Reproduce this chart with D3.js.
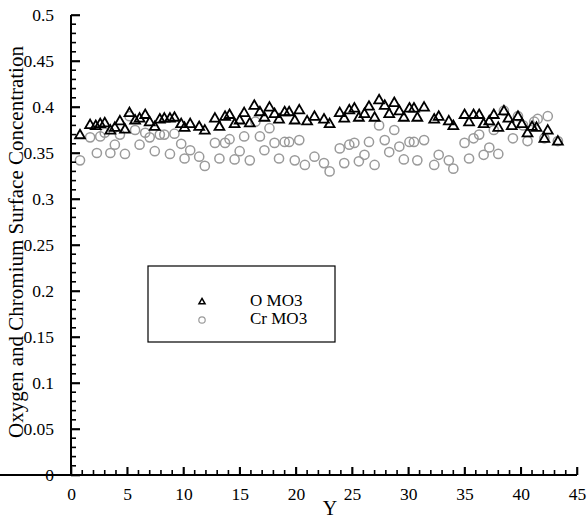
<!DOCTYPE html>
<html><head><meta charset="utf-8">
<script src="https://cdn.jsdelivr.net/npm/d3@7"></script>
<style>body{margin:0;background:#fff}svg{display:block}</style>
</head><body>
<svg id="c" width="588" height="519"></svg>
<script>
const xO = [0.8,1.7,2.2,2.6,3.0,3.5,3.9,4.35,4.8,5.2,5.7,6.1,6.6,7.0,7.45,7.9,8.3,8.8,9.2,9.8,10.1,10.6,11.4,11.9,12.8,13.2,13.7,14.1,14.55,15.0,15.4,15.9,16.3,16.8,17.2,17.65,18.1,18.5,19.0,19.4,19.9,20.3,21.0,21.65,22.5,23.0,23.9,24.3,24.75,25.2,25.6,26.1,26.5,27.0,27.4,27.9,28.3,28.75,29.2,29.6,30.1,30.5,30.8,31.4,32.3,32.7,33.6,34.0,35.0,35.4,35.8,36.3,36.7,37.2,37.6,38.0,38.5,38.9,39.2,39.75,40.1,40.6,41.0,41.4,42.1,42.4,43.3];
const oMO3 = [0.370,0.381,0.380,0.382,0.383,0.375,0.378,0.385,0.376,0.394,0.386,0.388,0.392,0.384,0.379,0.387,0.388,0.388,0.389,0.382,0.378,0.382,0.379,0.375,0.388,0.379,0.390,0.392,0.382,0.386,0.394,0.383,0.402,0.395,0.389,0.400,0.393,0.387,0.395,0.395,0.386,0.397,0.385,0.390,0.387,0.382,0.394,0.388,0.397,0.399,0.389,0.393,0.401,0.389,0.408,0.402,0.393,0.405,0.396,0.389,0.399,0.399,0.389,0.400,0.387,0.390,0.385,0.380,0.392,0.384,0.392,0.392,0.382,0.385,0.392,0.378,0.396,0.388,0.380,0.390,0.382,0.372,0.379,0.378,0.366,0.375,0.363];
const xCr = [0.8,1.7,2.3,2.6,3.0,3.5,3.9,4.35,4.8,5.2,5.7,6.1,6.6,7.0,7.45,7.9,8.3,8.8,9.2,9.8,10.1,10.6,11.4,11.9,12.8,13.2,13.7,14.1,14.55,15.0,15.4,15.9,16.4,16.8,17.2,17.65,18.1,18.5,19.0,19.4,19.9,20.3,20.8,21.65,22.5,23.0,23.9,24.3,24.75,25.2,25.6,26.1,26.5,27.0,27.4,27.9,28.3,28.75,29.2,29.6,30.1,30.5,30.8,31.4,32.3,32.7,33.6,34.0,35.0,35.4,35.8,36.3,36.7,37.2,37.6,38.0,38.5,39.3,39.75,40.2,40.6,41.2,41.5,42.1,42.4,43.3];
const crMO3 = [0.342,0.367,0.350,0.368,0.372,0.350,0.359,0.370,0.349,0.390,0.375,0.359,0.372,0.367,0.352,0.370,0.370,0.349,0.371,0.360,0.344,0.353,0.346,0.336,0.361,0.344,0.361,0.365,0.343,0.352,0.368,0.342,0.384,0.368,0.353,0.377,0.361,0.344,0.362,0.362,0.342,0.364,0.337,0.346,0.339,0.330,0.355,0.339,0.359,0.361,0.341,0.348,0.362,0.337,0.380,0.364,0.351,0.375,0.357,0.343,0.362,0.362,0.342,0.364,0.337,0.348,0.342,0.333,0.361,0.344,0.366,0.370,0.348,0.356,0.375,0.349,0.396,0.366,0.390,0.380,0.363,0.384,0.387,0.366,0.390,0.363];
const yTicks = [0,0.05,0.1,0.15,0.2,0.25,0.3,0.35,0.4,0.45,0.5];
const xTicks = [0,5,10,15,20,25,30,35,40,45];
const seriesNames = ["O MO3","Cr MO3"];

const svg = d3.select("#c");
const FONT = "'Liberation Serif', 'Times New Roman', serif";
const x = d3.scaleLinear().domain([0,45]).range([71,577]);
const y = d3.scaleLinear().domain([0,0.5]).range([475,15]);

// data
const tri = d3.symbol().type(d3.symbolTriangle).size(42);
svg.append("g").selectAll("circle").data(xCr.map((v,i)=>[v,crMO3[i]])).join("circle")
  .attr("cx",d=>x(d[0])).attr("cy",d=>y(d[1])).attr("r",4.6)
  .style("fill","none").style("stroke","#9a9a9a").style("stroke-width","1.5px");
svg.append("g").selectAll("path").data(xO.map((v,i)=>[v,oMO3[i]])).join("path")
  .attr("d",tri).attr("transform",d=>`translate(${x(d[0])},${y(d[1])+0.8})`)
  .style("fill","none").style("stroke","#000").style("stroke-width","1.8px");

const yMinor = d3.range(0,0.5001,0.01).map(v=>+v.toFixed(2));
const xMinor = d3.range(0,45.001,1);

// library axes (labels + ticks)
const gyM = svg.append("g").attr("transform",`translate(${x(0)},0)`);
gyM.call(d3.axisLeft(y).tickValues(yTicks).tickSize(-9).tickPadding(17)
  .tickFormat(d=>d===0?"0":String(+d.toFixed(2))));
const gxM = svg.append("g").attr("transform",`translate(0,${y(0)})`);
gxM.call(d3.axisBottom(x).tickValues(xTicks).tickSize(-8).tickPadding(13).tickFormat(d=>String(d)));
gyM.select(".domain").attr("d",`M0,${y(0)+1}V${y(0.5)}`);
gxM.select(".domain").attr("d",`M-1,0H${x(45)}`);
svg.selectAll(".domain").style("stroke","#000").style("stroke-width","2px").style("fill","none");
svg.selectAll(".tick line").style("stroke","#000").style("stroke-width","1.6px");
svg.selectAll(".tick text").style("fill","#000").style("font-family",FONT).style("font-size","17.5px");

// explicit frame lines and tick marks from the same scales
const fr = svg.append("g").style("stroke","#000");
fr.append("line").attr("x1",x(0)).attr("x2",x(0)).attr("y1",y(0)+1).attr("y2",y(0.5)).style("stroke-width","2px");
fr.append("line").attr("x1",x(0)-1).attr("x2",x(45)).attr("y1",y(0)).attr("y2",y(0)).style("stroke-width","2px");
fr.selectAll("line.ym").data(yMinor).join("line").attr("class","ym")
  .attr("x1",x(0)).attr("x2",d=>x(0)+(yTicks.some(t=>Math.abs(t-d)<1e-9)?9:5))
  .attr("y1",d=>y(d)).attr("y2",d=>y(d)).style("stroke-width","1.6px");
fr.selectAll("line.xm").data(xMinor).join("line").attr("class","xm")
  .attr("x1",d=>x(d)).attr("x2",d=>x(d)).attr("y1",y(0))
  .attr("y2",d=>y(0)-(d%5===0?8:5)).style("stroke-width","1.6px");

// titles
svg.append("text").attr("x",330).attr("y",515).attr("text-anchor","middle")
  .style("font-family",FONT).style("font-size","20px").text("Y");
svg.append("text").attr("transform","translate(23,242) rotate(-90)").attr("text-anchor","middle")
  .style("font-family",FONT).style("font-size","21px").text("Oxygen and Chromium Surface Concentration");

// legend
const lg = svg.append("g");
lg.append("rect").attr("x",148).attr("y",266).attr("width",187).attr("height",76)
  .style("fill","#fff").style("stroke","#000").style("stroke-width","1.2px");
lg.append("path").attr("d",d3.symbol().type(d3.symbolTriangle).size(16)())
  .attr("transform","translate(202,302)").style("fill","none").style("stroke","#000").style("stroke-width","1.5px");
lg.append("circle").attr("cx",202).attr("cy",320).attr("r",3.2)
  .style("fill","none").style("stroke","#9a9a9a").style("stroke-width","1.2px");
lg.selectAll("text.l").data(seriesNames).join("text").attr("class","l")
  .attr("x",250).attr("y",(d,i)=>306+i*18).style("font-family",FONT).style("font-size","17px").text(d=>d);
</script>
</body></html>
